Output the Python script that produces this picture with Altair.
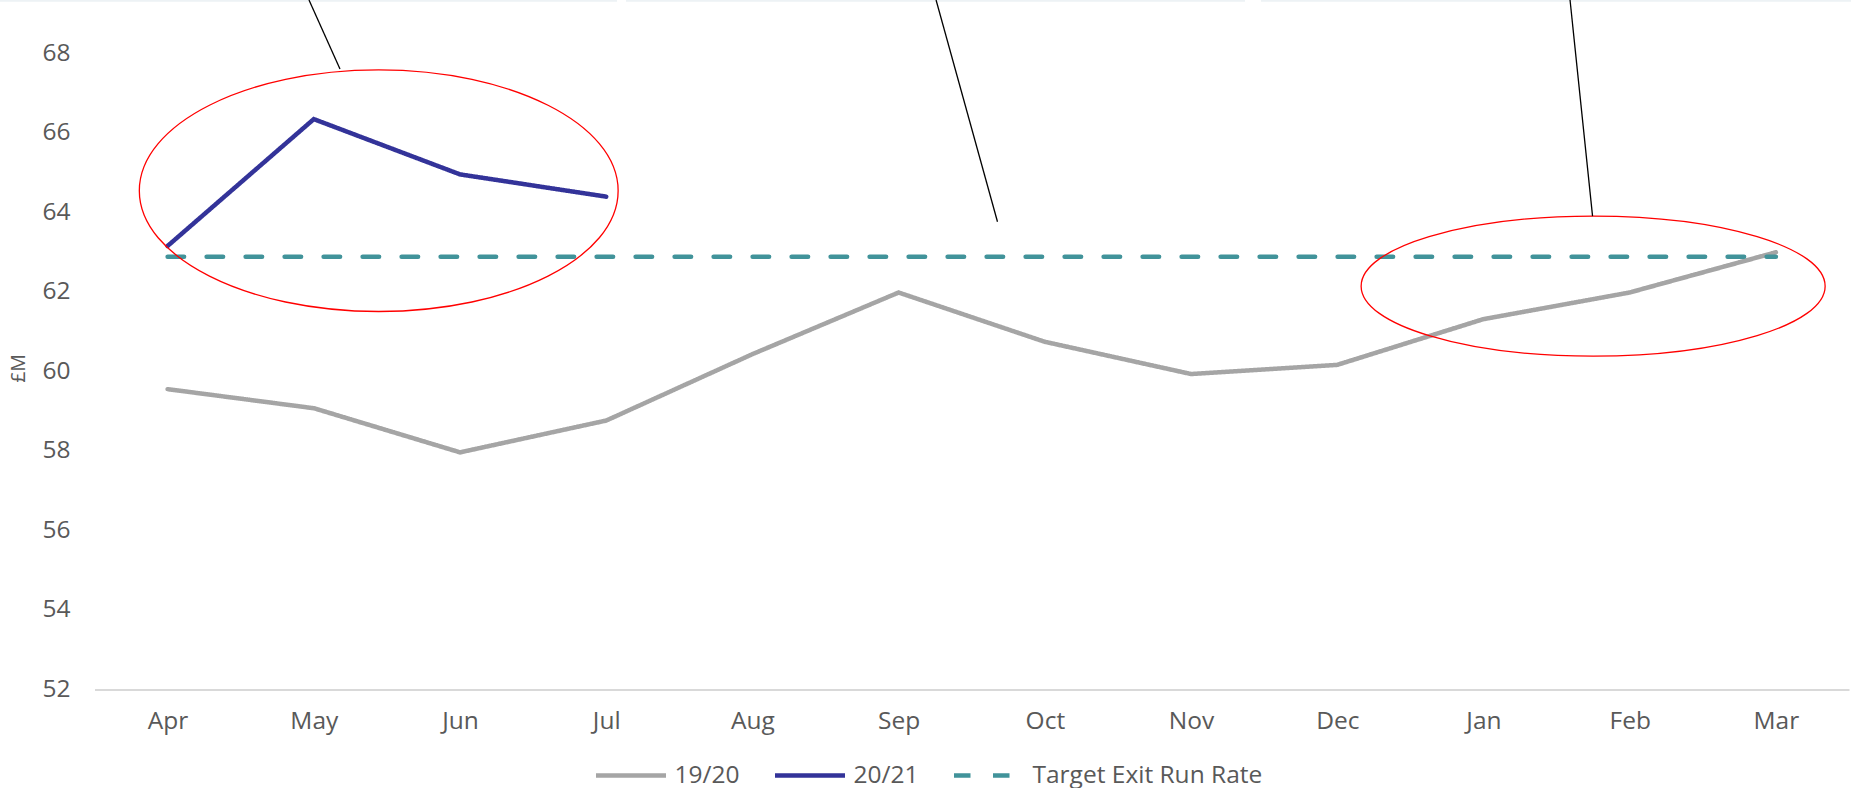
import altair as alt
import pandas as pd

# ---- data -------------------------------------------------------------
months = ["Apr", "May", "Jun", "Jul", "Aug", "Sep", "Oct", "Nov", "Dec", "Jan", "Feb", "Mar"]
fy_1920 = [59.55, 59.07, 57.96, 58.76, 60.43, 61.98, 60.74, 59.93, 60.16, 61.31, 61.98, 62.99]
fy_2021 = [63.15, 66.34, 64.95, 64.39]
target_exit_run_rate = 62.88

series_names = ["19/20", "20/21", "Target Exit Run Rate"]
series_colors = ["#A5A5A5", "#333399", "#41939A"]
series_dashes = [[1, 0], [1, 0], [16.5, 22.5]]
series_widths = [4.5, 4.5, 5.5]

y_ticks = [52, 54, 56, 58, 60, 62, 64, 66, 68]
y_min, y_max = 52, 69.335

rows = []
for i, v in enumerate(fy_1920):
    rows.append({"m": i, "series": "19/20", "value": v})
for i, v in enumerate(fy_2021):
    rows.append({"m": i, "series": "20/21", "value": v})
for i in range(len(months)):
    rows.append({"m": i, "series": "Target Exit Run Rate", "value": target_exit_run_rate})
lines_df = pd.DataFrame(rows)

# ---- annotations (month index / £M coordinates) -----------------------
# red rings highlighting periods of interest
rings = [
    {"m": 1.444, "value": 64.54, "rx": 239.4, "ry": 120.8},
    {"m": 9.75, "value": 62.14, "rx": 232.0, "ry": 70.0},
]
# leader lines running up to the callout boxes above the chart
leaders = pd.DataFrame([
    {"m": 0.967, "value": y_max, "m2": 1.179, "value2": 67.60},
    {"m": 5.256, "value": y_max, "m2": 5.676, "value2": 63.76},
    {"m": 9.592, "value": y_max, "m2": 9.746, "value2": 63.90},
])
# lower edges of the callout boxes
box_edges = pd.DataFrame([
    {"m": -1.15, "m2": 3.074},
    {"m": 3.135, "m2": 7.369},
    {"m": 7.478, "m2": 11.52},
]).assign(value=y_max, value2=y_max - 0.045)

month_lookup = "[" + ",".join(f"'{m}'" for m in months) + "]"

FONT = "Open Sans"
TEXT = "#595959"
LABEL_SIZE = 24.5

x_enc = alt.X(
    "m:Q",
    scale=alt.Scale(domain=[-0.5, len(months) - 0.5], nice=False, zero=False),
    axis=alt.Axis(
        values=list(range(len(months))),
        labelExpr=f"{month_lookup}[datum.value]",
        title=None,
        grid=False,
        ticks=False,
        tickSize=0,
        domain=True,
        domainColor="#D9D9D9",
        domainWidth=2,
        labelPadding=20.5,
        labelFont=FONT,
        labelFontSize=LABEL_SIZE,
        labelColor=TEXT,
    ),
)
y_enc = alt.Y(
    "value:Q",
    scale=alt.Scale(domain=[y_min, y_max], nice=False, zero=False),
    axis=alt.Axis(
        values=y_ticks,
        title="£M",
        titleFont=FONT,
        titleFontSize=19.5,
        titleFontWeight="normal",
        titleColor=TEXT,
        titleAngle=270,
        titleAlign="center",
        titleBaseline="middle",
        titleX=-76,
        titleY=368,
        grid=False,
        ticks=False,
        tickSize=0,
        domain=False,
        labelPadding=24.5,
        labelFont=FONT,
        labelFontSize=LABEL_SIZE,
        labelColor=TEXT,
    ),
)

legend = alt.Legend(
    title=None,
    orient="none",
    legendX=499,
    legendY=738,
    direction="horizontal",
    symbolType="stroke",
    symbolSize=4900,
    symbolStrokeWidth=4.5,
    labelFont=FONT,
    labelFontSize=LABEL_SIZE,
    labelColor=TEXT,
    labelOffset=6,
    labelLimit=0,
    columnPadding=25,
    padding=0,
)

series_lines = alt.Chart(lines_df).mark_line(clip=False, strokeCap="round").encode(
    x=x_enc,
    y=y_enc,
    color=alt.Color("series:N", scale=alt.Scale(domain=series_names, range=series_colors), legend=legend),
    strokeDash=alt.StrokeDash("series:N", scale=alt.Scale(domain=series_names, range=series_dashes), legend=legend),
    strokeWidth=alt.StrokeWidth("series:N", scale=alt.Scale(domain=series_names, range=series_widths), legend=None),
    order=alt.Order("m:Q"),
)


def ellipse_path(ratio):
    k = 0.5523
    b = ratio
    return (
        f"M1,0 C1,{k*b:.4f} {k},{b:.4f} 0,{b:.4f} "
        f"C{-k},{b:.4f} -1,{k*b:.4f} -1,0 "
        f"C-1,{-k*b:.4f} {-k},{-b:.4f} 0,{-b:.4f} "
        f"C{k},{-b:.4f} 1,{-k*b:.4f} 1,0 Z"
    )


ring_layers = []
for r in rings:
    ring_layers.append(
        alt.Chart(pd.DataFrame([{"m": r["m"], "value": r["value"]}]))
        .mark_point(
            shape=ellipse_path(r["ry"] / r["rx"]),
            size=(2 * r["rx"]) ** 2,
            filled=False,
            stroke="#FF0000",
            strokeWidth=1.3,
            opacity=1,
            clip=False,
        )
        .encode(x="m:Q", y="value:Q")
    )

leader_lines = alt.Chart(leaders).mark_rule(color="#000000", strokeWidth=1.3, clip=False).encode(
    x="m:Q", y="value:Q", x2="m2:Q", y2="value2:Q"
)

edges = alt.Chart(box_edges).mark_rect(color="#EDF2F5", clip=False).encode(
    x="m:Q", x2="m2:Q", y="value:Q", y2="value2:Q"
)

chart = (
    alt.layer(edges, series_lines, *ring_layers, leader_lines)
    .properties(
        width=1754.5,
        height=689.4,
        padding={"left": 94.5, "top": 0, "right": 2, "bottom": 98.6},
        autosize=alt.AutoSizeParams(type="none"),
        background="#FFFFFF",
    )
    .configure_view(stroke=None)
)

chart.save("out.html", embed_options={"renderer": "svg", "actions": False})
